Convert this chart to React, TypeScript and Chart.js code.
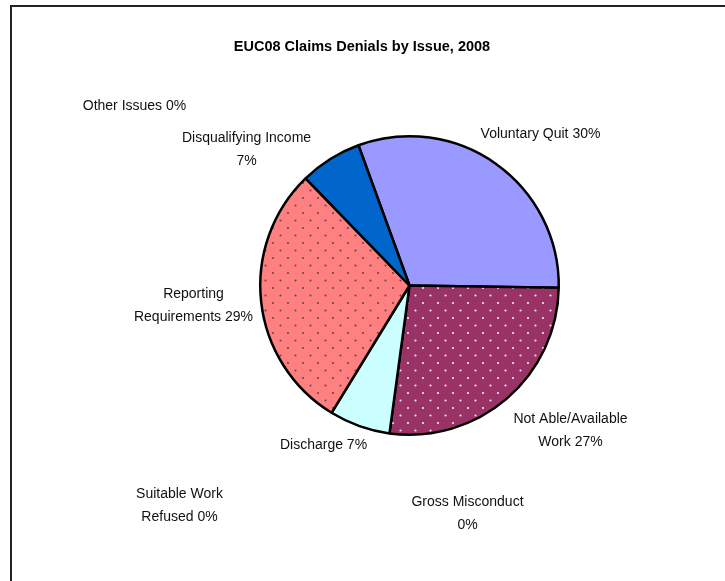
import React, { useEffect, useRef } from "react";
import { Chart, registerables } from "chart.js";

Chart.register(...registerables);

const TITLE = "EUC08 Claims Denials by Issue, 2008";
const categories = [
  "Voluntary Quit",
  "Not Able/Available Work",
  "Gross Misconduct",
  "Discharge",
  "Suitable Work Refused",
  "Reporting Requirements",
  "Disqualifying Income",
  "Other Issues",
];
const values = [30.8, 26.9, 0, 6.6, 0, 29.0, 6.7, 0];
const labelLines = [
  ["Voluntary Quit 30%"],
  ["Not Able/Available", "Work 27%"],
  ["Gross Misconduct", "0%"],
  ["Discharge 7%"],
  ["Suitable Work", "Refused 0%"],
  ["Reporting", "Requirements 29%"],
  ["Disqualifying Income", "7%"],
  ["Other Issues 0%"],
];

// label anchor offsets (x,y of first line centre) relative to pie centre
const labelLayout = [
  [131, -151],
  [161, 134],
  [58, 217],
  [-86, 160],
  [-230, 209],
  [-216, 9],
  [-163, -147],
  [-275, -179],
];

function dotPattern(bg: string, dot: string) {
  const t = document.createElement("canvas");
  t.width = 15;
  t.height = 15;
  const c = t.getContext("2d")!;
  c.fillStyle = bg;
  c.fillRect(0, 0, 15, 15);
  c.fillStyle = dot;
  c.beginPath();
  c.arc(3, 3, 1.1, 0, Math.PI * 2);
  c.arc(10.5, 10.5, 1.1, 0, Math.PI * 2);
  c.fill();
  const ctx = document.createElement("canvas").getContext("2d")!;
  return ctx.createPattern(t, "repeat")!;
}

export default function App() {
  const ref = useRef<HTMLCanvasElement>(null);
  useEffect(() => {
    const colors: any[] = [
      "#9999FF",
      dotPattern("#993366", "#F4E6EE"),
      "#993366",
      "#CCFFFF",
      "#FFFFCC",
      dotPattern("#FF8080", "#6A4A4A"),
      "#0066CC",
      "#CCCCFF",
    ];
    const decor = {
      id: "decor",
      afterDraw(chart: any) {
        const ctx = chart.ctx;
        const arc = chart.getDatasetMeta(0).data[0];
        const cx = arc.x;
        const cy = arc.y;
        ctx.save();
        ctx.strokeStyle = "#222";
        ctx.lineWidth = 2;
        ctx.beginPath();
        ctx.moveTo(11, 581);
        ctx.lineTo(11, 6);
        ctx.lineTo(725, 6);
        ctx.stroke();
        ctx.fillStyle = "#000";
        ctx.textAlign = "center";
        ctx.textBaseline = "middle";
        ctx.font = "bold 14.5px 'Liberation Sans', Arial, sans-serif";
        ctx.fillText(TITLE, 362, 47);
        ctx.font = "14px 'Liberation Sans', Arial, sans-serif";
        ctx.fillStyle = "#111";
        labelLines.forEach((lines, i) => {
          const [dx, dy] = labelLayout[i];
          lines.forEach((s, j) => ctx.fillText(s, cx + dx, cy + dy + j * 23));
        });
        ctx.restore();
      },
    };
    const chart = new Chart(ref.current!, {
      type: "pie",
      data: {
        labels: categories,
        datasets: [
          {
            data: values,
            backgroundColor: colors,
            borderColor: "#000",
            borderWidth: 2.5,
          },
        ],
      },
      options: {
        animation: false,
        responsive: false,
        rotation: -20,
        layout: { padding: { left: 259, right: 165, top: 135, bottom: 145 } },
        plugins: { legend: { display: false }, tooltip: { enabled: false }, title: { display: false } },
      },
      plugins: [decor],
    });
    return () => chart.destroy();
  }, []);
  return (
    <div style={{ position: "fixed", left: 0, top: 0, width: 725, height: 581, background: "#fff" }}>
      <canvas ref={ref} width={725} height={581} />
    </div>
  );
}
